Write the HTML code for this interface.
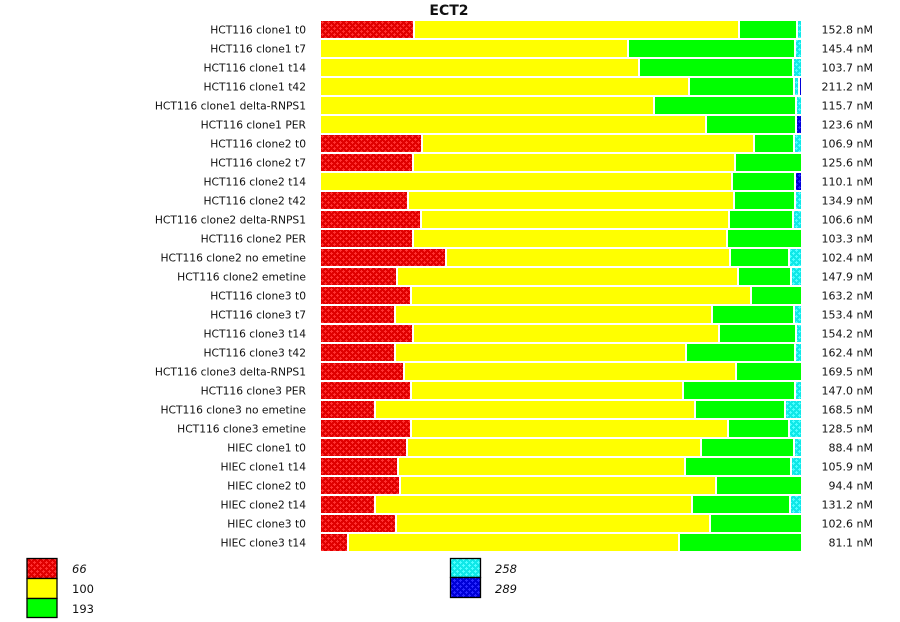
<!DOCTYPE html>
<html><head><meta charset="utf-8"><style>
html,body{margin:0;padding:0;background:#fff;}
svg{display:block;}
text{font-family:"DejaVu Sans","Liberation Sans",sans-serif;fill:#111;}
</style></head><body>
<svg width="900" height="622" viewBox="0 0 900 622" xmlns="http://www.w3.org/2000/svg">
<defs>
<pattern id="pr" patternUnits="userSpaceOnUse" width="6" height="6">
<rect width="6" height="6" fill="#e00000"/>
<rect x="1" y="0" width="1" height="3" fill="#ff3030"/><rect x="0" y="1" width="3" height="1" fill="#ff3030"/>
<rect x="4" y="3" width="1" height="3" fill="#ff3030"/><rect x="3" y="4" width="3" height="1" fill="#ff3030"/>
</pattern>
<pattern id="pc" patternUnits="userSpaceOnUse" width="6" height="6">
<rect width="6" height="6" fill="#10e8e8"/>
<rect x="1" y="0" width="1" height="3" fill="#50ffff"/><rect x="0" y="1" width="3" height="1" fill="#50ffff"/>
<rect x="4" y="3" width="1" height="3" fill="#50ffff"/><rect x="3" y="4" width="3" height="1" fill="#50ffff"/>
</pattern>
<pattern id="pb" patternUnits="userSpaceOnUse" width="6" height="6">
<rect width="6" height="6" fill="#0000d8"/>
<rect x="1" y="0" width="1" height="3" fill="#2a2aff"/><rect x="0" y="1" width="3" height="1" fill="#2a2aff"/>
<rect x="4" y="3" width="1" height="3" fill="#2a2aff"/><rect x="3" y="4" width="3" height="1" fill="#2a2aff"/>
</pattern>
</defs>

<text x="449" y="15" text-anchor="middle" style="font-weight:bold;font-size:14px;">ECT2</text>

<g style="font-size:10.7px;" text-anchor="end">
<text x="306" y="33.5">HCT116 clone1 t0</text>
<text x="306" y="52.5">HCT116 clone1 t7</text>
<text x="306" y="71.5">HCT116 clone1 t14</text>
<text x="306" y="90.5">HCT116 clone1 t42</text>
<text x="306" y="109.5">HCT116 clone1 delta-RNPS1</text>
<text x="306" y="128.5">HCT116 clone1 PER</text>
<text x="306" y="147.5">HCT116 clone2 t0</text>
<text x="306" y="166.5">HCT116 clone2 t7</text>
<text x="306" y="185.5">HCT116 clone2 t14</text>
<text x="306" y="204.5">HCT116 clone2 t42</text>
<text x="306" y="223.5">HCT116 clone2 delta-RNPS1</text>
<text x="306" y="242.5">HCT116 clone2 PER</text>
<text x="306" y="261.5">HCT116 clone2 no emetine</text>
<text x="306" y="280.5">HCT116 clone2 emetine</text>
<text x="306" y="299.5">HCT116 clone3 t0</text>
<text x="306" y="318.5">HCT116 clone3 t7</text>
<text x="306" y="337.5">HCT116 clone3 t14</text>
<text x="306" y="356.5">HCT116 clone3 t42</text>
<text x="306" y="375.5">HCT116 clone3 delta-RNPS1</text>
<text x="306" y="394.5">HCT116 clone3 PER</text>
<text x="306" y="413.5">HCT116 clone3 no emetine</text>
<text x="306" y="432.5">HCT116 clone3 emetine</text>
<text x="306" y="451.5">HIEC clone1 t0</text>
<text x="306" y="470.5">HIEC clone1 t14</text>
<text x="306" y="489.5">HIEC clone2 t0</text>
<text x="306" y="508.5">HIEC clone2 t14</text>
<text x="306" y="527.5">HIEC clone3 t0</text>
<text x="306" y="546.5">HIEC clone3 t14</text>
</g>

<g style="font-size:11px;" text-anchor="end">
<text x="873" y="33.5">152.8 nM</text>
<text x="873" y="52.5">145.4 nM</text>
<text x="873" y="71.5">103.7 nM</text>
<text x="873" y="90.5">211.2 nM</text>
<text x="873" y="109.5">115.7 nM</text>
<text x="873" y="128.5">123.6 nM</text>
<text x="873" y="147.5">106.9 nM</text>
<text x="873" y="166.5">125.6 nM</text>
<text x="873" y="185.5">110.1 nM</text>
<text x="873" y="204.5">134.9 nM</text>
<text x="873" y="223.5">106.6 nM</text>
<text x="873" y="242.5">103.3 nM</text>
<text x="873" y="261.5">102.4 nM</text>
<text x="873" y="280.5">147.9 nM</text>
<text x="873" y="299.5">163.2 nM</text>
<text x="873" y="318.5">153.4 nM</text>
<text x="873" y="337.5">154.2 nM</text>
<text x="873" y="356.5">162.4 nM</text>
<text x="873" y="375.5">169.5 nM</text>
<text x="873" y="394.5">147.0 nM</text>
<text x="873" y="413.5">168.5 nM</text>
<text x="873" y="432.5">128.5 nM</text>
<text x="873" y="451.5">88.4 nM</text>
<text x="873" y="470.5">105.9 nM</text>
<text x="873" y="489.5">94.4 nM</text>
<text x="873" y="508.5">131.2 nM</text>
<text x="873" y="527.5">102.6 nM</text>
<text x="873" y="546.5">81.1 nM</text>
</g>

<g>
<rect x="321" y="21" width="92" height="17" fill="url(#pr)"/><rect x="415" y="21" width="323" height="17" fill="#ffff00"/><rect x="740" y="21" width="56" height="17" fill="#00ff00"/><rect x="798" y="21" width="3" height="17" fill="url(#pc)"/>
<rect x="321" y="40" width="306" height="17" fill="#ffff00"/><rect x="629" y="40" width="165" height="17" fill="#00ff00"/><rect x="796" y="40" width="5" height="17" fill="url(#pc)"/>
<rect x="321" y="59" width="317" height="17" fill="#ffff00"/><rect x="640" y="59" width="152" height="17" fill="#00ff00"/><rect x="794" y="59" width="7" height="17" fill="url(#pc)"/>
<rect x="321" y="78" width="367" height="17" fill="#ffff00"/><rect x="690" y="78" width="103" height="17" fill="#00ff00"/><rect x="795" y="78" width="3" height="17" fill="url(#pc)"/><rect x="800" y="78" width="1" height="17" fill="#0000d8"/>
<rect x="321" y="97" width="332" height="17" fill="#ffff00"/><rect x="655" y="97" width="140" height="17" fill="#00ff00"/><rect x="797" y="97" width="4" height="17" fill="url(#pc)"/>
<rect x="321" y="116" width="384" height="17" fill="#ffff00"/><rect x="707" y="116" width="88" height="17" fill="#00ff00"/><rect x="797" y="116" width="4" height="17" fill="url(#pb)"/>
<rect x="321" y="135" width="100" height="17" fill="url(#pr)"/><rect x="423" y="135" width="330" height="17" fill="#ffff00"/><rect x="755" y="135" width="38" height="17" fill="#00ff00"/><rect x="795" y="135" width="6" height="17" fill="url(#pc)"/>
<rect x="321" y="154" width="91" height="17" fill="url(#pr)"/><rect x="414" y="154" width="320" height="17" fill="#ffff00"/><rect x="736" y="154" width="65" height="17" fill="#00ff00"/>
<rect x="321" y="173" width="410" height="17" fill="#ffff00"/><rect x="733" y="173" width="61" height="17" fill="#00ff00"/><rect x="796" y="173" width="5" height="17" fill="url(#pb)"/>
<rect x="321" y="192" width="86" height="17" fill="url(#pr)"/><rect x="409" y="192" width="324" height="17" fill="#ffff00"/><rect x="735" y="192" width="59" height="17" fill="#00ff00"/><rect x="796" y="192" width="5" height="17" fill="url(#pc)"/>
<rect x="321" y="211" width="99" height="17" fill="url(#pr)"/><rect x="422" y="211" width="306" height="17" fill="#ffff00"/><rect x="730" y="211" width="62" height="17" fill="#00ff00"/><rect x="794" y="211" width="7" height="17" fill="url(#pc)"/>
<rect x="321" y="230" width="91" height="17" fill="url(#pr)"/><rect x="414" y="230" width="312" height="17" fill="#ffff00"/><rect x="728" y="230" width="73" height="17" fill="#00ff00"/>
<rect x="321" y="249" width="124" height="17" fill="url(#pr)"/><rect x="447" y="249" width="282" height="17" fill="#ffff00"/><rect x="731" y="249" width="57" height="17" fill="#00ff00"/><rect x="790" y="249" width="11" height="17" fill="url(#pc)"/>
<rect x="321" y="268" width="75" height="17" fill="url(#pr)"/><rect x="398" y="268" width="339" height="17" fill="#ffff00"/><rect x="739" y="268" width="51" height="17" fill="#00ff00"/><rect x="792" y="268" width="9" height="17" fill="url(#pc)"/>
<rect x="321" y="287" width="89" height="17" fill="url(#pr)"/><rect x="412" y="287" width="338" height="17" fill="#ffff00"/><rect x="752" y="287" width="49" height="17" fill="#00ff00"/>
<rect x="321" y="306" width="73" height="17" fill="url(#pr)"/><rect x="396" y="306" width="315" height="17" fill="#ffff00"/><rect x="713" y="306" width="80" height="17" fill="#00ff00"/><rect x="795" y="306" width="6" height="17" fill="url(#pc)"/>
<rect x="321" y="325" width="91" height="17" fill="url(#pr)"/><rect x="414" y="325" width="304" height="17" fill="#ffff00"/><rect x="720" y="325" width="75" height="17" fill="#00ff00"/><rect x="797" y="325" width="4" height="17" fill="url(#pc)"/>
<rect x="321" y="344" width="73" height="17" fill="url(#pr)"/><rect x="396" y="344" width="289" height="17" fill="#ffff00"/><rect x="687" y="344" width="107" height="17" fill="#00ff00"/><rect x="796" y="344" width="5" height="17" fill="url(#pc)"/>
<rect x="321" y="363" width="82" height="17" fill="url(#pr)"/><rect x="405" y="363" width="330" height="17" fill="#ffff00"/><rect x="737" y="363" width="64" height="17" fill="#00ff00"/>
<rect x="321" y="382" width="89" height="17" fill="url(#pr)"/><rect x="412" y="382" width="270" height="17" fill="#ffff00"/><rect x="684" y="382" width="110" height="17" fill="#00ff00"/><rect x="796" y="382" width="5" height="17" fill="url(#pc)"/>
<rect x="321" y="401" width="53" height="17" fill="url(#pr)"/><rect x="376" y="401" width="318" height="17" fill="#ffff00"/><rect x="696" y="401" width="88" height="17" fill="#00ff00"/><rect x="786" y="401" width="15" height="17" fill="url(#pc)"/>
<rect x="321" y="420" width="89" height="17" fill="url(#pr)"/><rect x="412" y="420" width="315" height="17" fill="#ffff00"/><rect x="729" y="420" width="59" height="17" fill="#00ff00"/><rect x="790" y="420" width="11" height="17" fill="url(#pc)"/>
<rect x="321" y="439" width="85" height="17" fill="url(#pr)"/><rect x="408" y="439" width="292" height="17" fill="#ffff00"/><rect x="702" y="439" width="91" height="17" fill="#00ff00"/><rect x="795" y="439" width="6" height="17" fill="url(#pc)"/>
<rect x="321" y="458" width="76" height="17" fill="url(#pr)"/><rect x="399" y="458" width="285" height="17" fill="#ffff00"/><rect x="686" y="458" width="104" height="17" fill="#00ff00"/><rect x="792" y="458" width="9" height="17" fill="url(#pc)"/>
<rect x="321" y="477" width="78" height="17" fill="url(#pr)"/><rect x="401" y="477" width="314" height="17" fill="#ffff00"/><rect x="717" y="477" width="84" height="17" fill="#00ff00"/>
<rect x="321" y="496" width="53" height="17" fill="url(#pr)"/><rect x="376" y="496" width="315" height="17" fill="#ffff00"/><rect x="693" y="496" width="96" height="17" fill="#00ff00"/><rect x="791" y="496" width="10" height="17" fill="url(#pc)"/>
<rect x="321" y="515" width="74" height="17" fill="url(#pr)"/><rect x="397" y="515" width="312" height="17" fill="#ffff00"/><rect x="711" y="515" width="90" height="17" fill="#00ff00"/>
<rect x="321" y="534" width="26" height="17" fill="url(#pr)"/><rect x="349" y="534" width="329" height="17" fill="#ffff00"/><rect x="680" y="534" width="121" height="17" fill="#00ff00"/>
</g>

<g stroke="#000" stroke-width="1.3">
<rect x="27" y="558.5" width="30" height="20" fill="url(#pr)"/>
<rect x="27" y="578.5" width="30" height="20" fill="#ffff00"/>
<rect x="27" y="598.5" width="30" height="19" fill="#00ff00"/>
<rect x="450.5" y="558.5" width="30" height="19" fill="url(#pc)"/>
<rect x="450.5" y="577.5" width="30" height="20" fill="url(#pb)"/>
</g>
<g style="font-size:11.5px;">
<text x="72" y="573" font-style="italic">66</text>
<text x="72" y="593">100</text>
<text x="72" y="613">193</text>
<text x="495" y="573" font-style="italic">258</text>
<text x="495" y="593" font-style="italic">289</text>
</g>
</svg>
</body></html>
